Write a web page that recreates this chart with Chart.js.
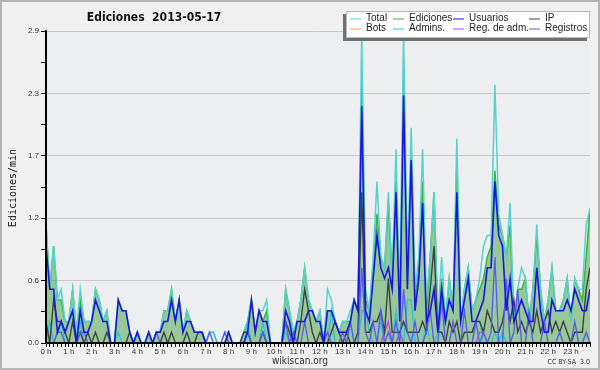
<!DOCTYPE html>
<html>
<head>
<meta charset="utf-8">
<title>Ediciones 2013-05-17</title>
<script src="https://cdn.jsdelivr.net/npm/chart.js@4.4.1/dist/chart.umd.min.js"></script>
<style>
  body { margin: 0; background: #f0f0f0; }
  canvas { display: block; }
</style>
</head>
<body>
<canvas id="chart" width="600" height="370"></canvas>
<script>
// 10-minute slots over the day (144 per series), edits per minute
const tickLabels = ['0 h','1 h','2 h','3 h','4 h','5 h','6 h','7 h','8 h','9 h','10 h','11 h',
  '12 h','13 h','14 h','15 h','16 h','17 h','18 h','19 h','20 h','21 h','22 h','23 h'];
const yTicks = [0, 0.29, 0.58, 0.87, 1.16, 1.45, 1.74, 2.03, 2.32, 2.61, 2.9];

const total = [
  1.1,0.5,0.9,0.4,0.5,0.2, 0.2,0.5,0.1,0.5,0.2,0.2, 0.2,0.5,0.4,0.2,0.3,0, 0,0.4,0.3,0.3,0.1,0,
  0.1,0,0,0.1,0,0.1, 0.1,0.3,0.3,0.5,0.2,0.4, 0.1,0.3,0.2,0.1,0.1,0.1, 0,0.1,0.1,0,0,0.1,
  0.1,0,0,0,0.1,0.2, 0.4,0.1,0.3,0.3,0.4,0, 0,0,0,0.5,0.3,0.1, 0.2,0.4,0.7,0.4,0.3,0.2,
  0.3,0,0.5,0.4,0.2,0.1, 0.2,0.2,0.3,0.4,0.3,2.9, 0.5,0.3,0.8,1.5,0.8,0.7, 1.4,0.6,1.8,0.4,2.9,0.7,
  2.0,0.5,0.8,1.8,0.4,0.8, 1.4,0.2,0.8,0.2,0.6,0.3, 1.9,0.2,0.5,0.7,0.3,0.4, 0.6,0.9,1.0,1.0,2.4,1.2,
  1.0,0.8,1.3,0.2,0.5,0.7, 0.6,0.2,0.5,1.1,0.5,0.2, 0.4,0.7,0.3,0.3,0.4,0.6, 0.2,0.6,0.5,0.5,1.1,1.25
];
const ediciones = [
  1.1,0.5,0.9,0.4,0.4,0.2, 0.2,0.5,0.1,0.4,0.2,0.2, 0.2,0.5,0.4,0.2,0.3,0, 0,0.4,0.3,0.3,0.1,0,
  0.1,0,0,0.1,0,0.1, 0.1,0.3,0.3,0.5,0.2,0.4, 0.1,0.3,0.2,0.1,0.1,0.1, 0,0,0,0,0,0,
  0.1,0,0,0,0.1,0.2, 0.4,0.1,0.3,0.2,0.3,0, 0,0,0,0.5,0.3,0.1, 0.2,0.4,0.7,0.4,0.3,0.2,
  0.3,0,0.3,0.3,0.2,0.1, 0.2,0.2,0.2,0.4,0.3,2.4, 0.4,0.3,0.7,1.2,0.8,0.7, 1.3,0.6,1.5,0.3,2.5,0.6,
  1.8,0.4,0.7,1.5,0.3,0.8, 1.4,0.2,0.6,0.2,0.6,0.3, 1.7,0.2,0.5,0.7,0.3,0.4, 0.5,0.6,0.8,0.9,1.6,1.1,
  1.0,0.8,1.1,0.2,0.5,0.5, 0.6,0.2,0.5,1.0,0.5,0.2, 0.4,0.7,0.3,0.3,0.4,0.6, 0.2,0.6,0.5,0.4,0.8,1.25
];
const usuarios = [
  0.9,0.5,0.5,0.1,0.2,0.1, 0.2,0.3,0,0.3,0.1,0.1, 0.2,0.4,0.3,0.2,0.2,0, 0,0.4,0.3,0.3,0.1,0,
  0.1,0,0,0.1,0,0.1, 0.1,0.2,0.2,0.4,0.2,0.4, 0.1,0.2,0.2,0.1,0.1,0.1, 0,0,0,0,0,0,
  0.1,0,0,0,0,0.1, 0.4,0.1,0.3,0.2,0.2,0, 0,0,0,0.3,0.2,0, 0.2,0.2,0.2,0.3,0.3,0.2,
  0.2,0,0.3,0.3,0.2,0.1, 0.1,0.1,0.2,0.4,0.3,2.2, 0.3,0.2,0.6,1.0,0.7,0.6, 0.7,0.5,1.4,0.2,2.3,0.5,
  1.7,0.3,0.6,1.3,0.2,0.3, 0.5,0.1,0.5,0.2,0.4,0.3, 1.4,0.2,0.4,0.6,0.2,0.2, 0.3,0.4,0.7,0.7,1.5,1.0,
  0.9,0.3,0.6,0.2,0.3,0.4, 0.3,0.2,0.2,0.7,0.3,0.1, 0.1,0.4,0.3,0.3,0.3,0.4, 0.3,0.5,0.4,0.3,0.3,0.5
];
const ip = [
  0.2,0,0.4,0.2,0.2,0.1, 0,0.2,0,0.1,0,0.1, 0,0.1,0,0,0.1,0, 0,0,0,0,0.1,0,
  0,0,0,0,0,0, 0,0.1,0,0.1,0,0, 0,0.1,0,0,0.1,0.1, 0,0,0,0,0,0,
  0,0,0,0,0.1,0.1, 0,0,0,0.1,0,0, 0,0,0,0.2,0.1,0, 0,0.2,0.5,0.3,0.1,0,
  0.1,0,0,0.1,0.2,0.1, 0,0.1,0,0,0.1,1.4, 0.1,0.1,0.2,0.2,0.3,0.1, 0.6,0.1,0.1,0.1,0.2,0.1,
  0.1,0.1,0.1,0.2,0.1,0.5, 0.9,0.1,0.1,0,0.2,0.1, 0.2,0,0.1,0.1,0.1,0.2, 0.2,0.1,0.3,0.2,0.1,0.1,
  0.2,0.4,0.2,0.4,0.1,0.2, 0.1,0.2,0.1,0.3,0.1,0.2, 0.3,0.1,0.2,0.1,0.2,0.1, 0,0.1,0.1,0.1,0.5,0.7
];
const bots = new Array(144).fill(0);
const admins = [
  0,0.2,0,0.1,0.2,0, 0,0,0,0.2,0,0, 0,0,0,0,0,0, 0,0.1,0,0,0,0,
  0,0,0,0,0,0, 0,0,0,0,0,0, 0,0,0,0,0,0, 0,0.1,0.1,0,0,0,
  0,0,0,0,0,0.2, 0,0,0,0.2,0,0, 0,0,0,0.1,0,0, 0,0,0,0,0,0,
  0,0,0,0.3,0,0, 0,0,0.2,0,0,0.3, 0.3,0.1,0,0,0.2,0, 0,0,0.3,0,0,0.4,
  0.4,0,0,0,0.2,0, 0,0.1,0.1,0,0,0, 0,0,0,0,0,0.2, 0.2,0,0,0,0.1,0,
  0.1,0,0,0,0,0, 0,0,0,0,0,0, 0,0,0,0,0,0, 0,0,0,0,0,0
];
const regAdm = [
  0,0,0,0,0,0, 0,0,0,0,0,0, 0,0,0,0,0,0, 0,0,0,0,0,0,
  0,0,0,0,0,0, 0,0,0,0,0,0, 0,0,0,0,0,0, 0,0,0,0,0,0,
  0,0,0,0,0,0, 0,0,0,0,0,0, 0,0,0,0,0,0, 0,0,0,0,0,0,
  0,0,0,0,0,0, 0,0,0,0,0,0, 0,0,0,0,0,0.1, 0.2,0,0,0.1,0,0,
  0,0,0,0,0,0, 0,0,0,0,0,0, 0,0,0,0,0,0, 0.1,0.1,0,0,0,0,
  0,0,0,0,0,0, 0,0,0,0,0,0, 0,0,0,0,0,0, 0,0,0,0,0,0
];
const registros = [
  0,0,0,0.1,0.1,0, 0,0,0,0.1,0.1,0, 0,0,0,0,0,0, 0,0,0,0,0,0,
  0,0,0,0,0,0.1, 0,0,0,0,0,0, 0,0,0,0,0,0, 0,0.1,0,0,0,0.1,
  0,0,0,0,0,0.1, 0,0,0,0.1,0,0, 0,0,0,0.2,0,0.1, 0,0,0.2,0,0,0,
  0,0,0.1,0,0,0, 0.1,0,0.2,0,0,0.7, 0.1,0,0.2,0,0.3,0, 0.1,0,0.2,0,0.5,0.1,
  0,0.2,0,0,0.1,0.3, 0,0,0.4,0,0,0.2, 0,0,0.3,0,0,0.2, 0,0.1,0,0.1,0.8,0,
  0,0.6,0,0.1,0.5,0, 0,0.3,0,0,0,0.2, 0,0,0,0.1,0,0, 0,0.2,0,0,0.1,0
];

const slots = total.map((v, i) => i);

function series(label, values, color, width, order, extra) {
  return Object.assign({
    label: label,
    data: values.map((v, i) => ({ x: slots[i], y: v })),
    borderColor: color,
    backgroundColor: color,
    borderWidth: width,
    pointRadius: 0,
    tension: 0,
    fill: false,
    order: order
  }, extra || {});
}

// legend order: Total, Ediciones, Usuarios, IP / Bots, Admins., Reg. de adm., Registros
const datasets = [
  series('Total', total, '#55d2cc', 1.5, 9),
  series('Ediciones', ediciones, '#3cb43c', 1.5, 10, { fill: 'origin', backgroundColor: 'rgba(68,162,64,0.5)' }),
  series('Usuarios', usuarios, '#1616e0', 1.6, 3),
  series('IP', ip, '#404040', 1.4, 5),
  series('Bots', bots, '#f0a030', 1.2, 11),
  series('Admins.', admins, '#22c4dc', 1.2, 8),
  series('Reg. de adm.', regAdm, '#cc33dd', 1.2, 7),
  series('Registros', registros, '#5858f2', 1.3, 4)
];

// background, frame, titles and the boxed legend
const decor = {
  id: 'decor',
  beforeDraw(chart) {
    const ctx = chart.ctx, a = chart.chartArea;
    ctx.save();
    ctx.fillStyle = '#f0f0f0';
    ctx.fillRect(0, 0, chart.width, chart.height);
    ctx.strokeStyle = '#b4b4b4';
    ctx.lineWidth = 2;
    ctx.strokeRect(1, 1, chart.width - 2, chart.height - 2);
    ctx.fillStyle = '#eceef0';
    ctx.fillRect(a.left, a.top, a.right - a.left, a.bottom - a.top);
    ctx.restore();
  },
  afterDraw(chart) {
    const ctx = chart.ctx;
    ctx.save();
    ctx.fillStyle = '#111';
    ctx.font = 'bold 12px "DejaVu Sans Condensed", "DejaVu Sans", sans-serif';
    ctx.textAlign = 'center';
    ctx.textBaseline = 'alphabetic';
    ctx.fillText('Ediciones  2013-05-17', 154, 21);

    ctx.font = '10px "DejaVu Sans Mono", monospace';
    ctx.translate(13, 188);
    ctx.rotate(-Math.PI / 2);
    ctx.textBaseline = 'middle';
    ctx.fillText('Ediciones/min', 0, 0);
    ctx.setTransform(1, 0, 0, 1, 0, 0);

    ctx.fillStyle = '#333';
    ctx.font = '10px "DejaVu Sans Condensed", "DejaVu Sans", sans-serif';
    ctx.fillText('wikiscan.org', 300, 361);
    ctx.font = '7px "DejaVu Sans Condensed", "DejaVu Sans", sans-serif';
    ctx.textAlign = 'right';
    ctx.fillText('CC BY-SA  3.0', 590, 362);

    // legend box with shadow
    ctx.fillStyle = '#707070';
    ctx.fillRect(343, 14, 244, 27);
    ctx.fillStyle = '#ffffff';
    ctx.fillRect(346, 11, 244, 27);
    ctx.strokeStyle = '#b8b8b8';
    ctx.lineWidth = 1;
    ctx.strokeRect(346.5, 11.5, 243, 26);

    const cols = [350, 393, 453, 529];
    const rows = [18.5, 28.5];
    ctx.font = '10px "Liberation Sans", sans-serif';
    ctx.textAlign = 'left';
    ctx.textBaseline = 'middle';
    chart.data.datasets.forEach((ds, i) => {
      const x = cols[i % 4], y = rows[Math.floor(i / 4)];
      ctx.strokeStyle = ds.borderColor;
      ctx.beginPath();
      ctx.moveTo(x, y + 0.5);
      ctx.lineTo(x + 11, y + 0.5);
      ctx.stroke();
      ctx.fillStyle = '#222';
      ctx.fillText(ds.label, x + 16, y);
    });
    ctx.restore();
  }
};

new Chart(document.getElementById('chart'), {
  type: 'line',
  data: { datasets: datasets },
  options: {
    responsive: false,
    devicePixelRatio: 1,
    animation: false,
    layout: { padding: { left: 0, right: 10, top: 31, bottom: 0 } },
    plugins: { legend: { display: false }, tooltip: { enabled: false }, title: { display: false } },
    scales: {
      x: {
        type: 'linear',
        min: 0,
        max: 143,
        afterBuildTicks: scale => { scale.ticks = slots.map(v => ({ value: v })); },
        afterFit: scale => { scale.height = 27; },
        border: { color: '#000', width: 2, z: 1 },
        grid: { drawOnChartArea: false, tickLength: 4, tickColor: '#000', color: '#000' },
        ticks: {
          autoSkip: false,
          maxRotation: 0,
          minRotation: 0,
          padding: 0,
          color: '#333',
          font: { size: 8, family: 'Liberation Sans' },
          callback: v => (v % 6 === 0 ? tickLabels[v / 6] : '')
        }
      },
      y: {
        min: 0,
        max: 2.9,
        afterBuildTicks: scale => { scale.ticks = yTicks.map(v => ({ value: v })); },
        afterFit: scale => { scale.width = 46; },
        border: { color: '#000', width: 2, z: 1 },
        grid: {
          color: ctx => (ctx.index % 2 === 0 ? '#c8c8c8' : 'rgba(0,0,0,0)'),
          tickColor: '#000',
          tickLength: 5
        },
        ticks: {
          autoSkip: false,
          padding: 2,
          color: '#333',
          font: { size: 8, family: 'Liberation Sans' },
          callback: (v, i) => (i % 2 === 0 ? v.toFixed(1) : '')
        }
      }
    }
  },
  plugins: [decor]
});
</script>
</body>
</html>
